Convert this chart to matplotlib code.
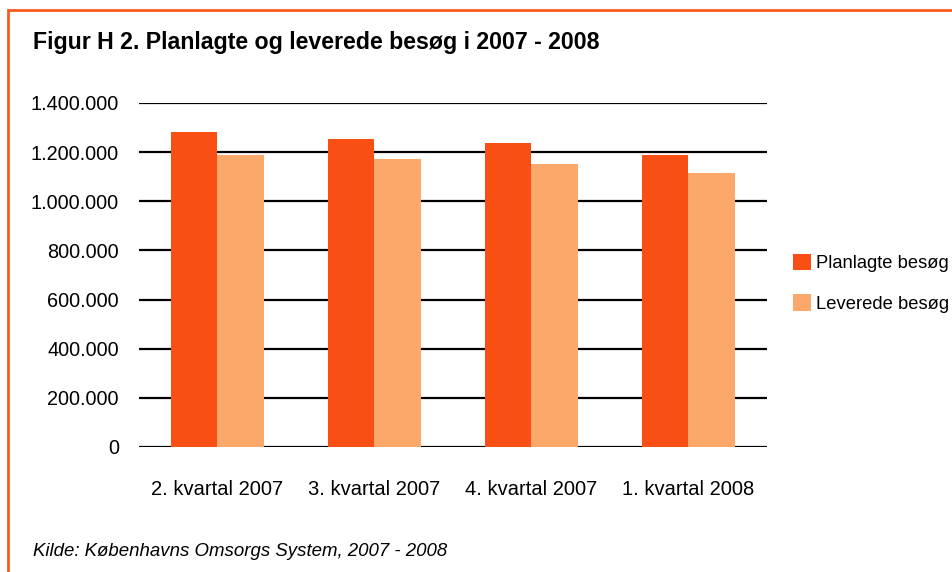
import numpy as np
import matplotlib.pyplot as plt
from matplotlib.patches import Rectangle
from matplotlib.ticker import FuncFormatter

# data
categories = ["2. kvartal 2007", "3. kvartal 2007", "4. kvartal 2007", "1. kvartal 2008"]
planlagte = [1280000, 1254000, 1238000, 1189000]
leverede = [1190000, 1173000, 1152000, 1116000]
series_names = ["Planlagte besøg", "Leverede besøg"]
yticks = [0, 200000, 400000, 600000, 800000, 1000000, 1200000, 1400000]

c_plan = "#F94E14"
c_lev = "#FCA86A"
c_border = "#F9581E"

plt.rcParams["font.family"] = ["Liberation Sans", "DejaVu Sans"]

fig = plt.figure(figsize=(9.53, 5.72), dpi=100)
ax = fig.add_axes([139 / 953, 1 - 447 / 572, 628 / 953, 344 / 572])

x = np.arange(len(categories))
w = 0.293
ax.bar(x - w / 2, planlagte, w, color=c_plan, label=series_names[0], zorder=3)
ax.bar(x + w / 2, leverede, w, color=c_lev, label=series_names[1], zorder=3)

ax.set_xlim(-0.5, len(categories) - 0.5)
ax.set_ylim(0, 1400000)
ax.set_yticks(yticks)
ax.yaxis.set_major_formatter(FuncFormatter(lambda v, p: f"{int(v):,}".replace(",", ".")))
ax.set_xticks(x)
ax.set_xticklabels(categories)
ax.tick_params(axis="y", length=0, pad=14.5, labelsize=14.3)
ax.tick_params(axis="x", length=0, pad=24, labelsize=14.5)
ax.yaxis.grid(True, color="black", linewidth=1.6, zorder=1)
ax.set_axisbelow(True)
for s in ax.spines.values():
    s.set_visible(False)

ax.legend(loc="upper left", bbox_to_anchor=(793 / 953, 1 - 254 / 572),
          bbox_transform=fig.transFigure, frameon=False, borderpad=0,
          borderaxespad=0, fontsize=13.2, handlelength=1.0, handleheight=1.0,
          labelspacing=1.2, handletextpad=0.25)

# orange frame (only top and left edges fall inside the image)
fig.patches.append(Rectangle((8 / 953, -0.1), 1.2, 1 - 10 / 572 + 0.1,
                             transform=fig.transFigure, fill=False,
                             edgecolor=c_border, linewidth=2))

fig.text(33 / 953, 1 - 42 / 572, "Figur H 2. Planlagte og leverede besøg i 2007 - 2008",
         fontsize=16.7, fontweight="bold", va="center", ha="left")
fig.text(33 / 953, 1 - 551 / 572, "Kilde: Københavns Omsorgs System, 2007 - 2008",
         fontsize=13.4, style="italic", va="center", ha="left")

fig.savefig("out.png", dpi=100)
